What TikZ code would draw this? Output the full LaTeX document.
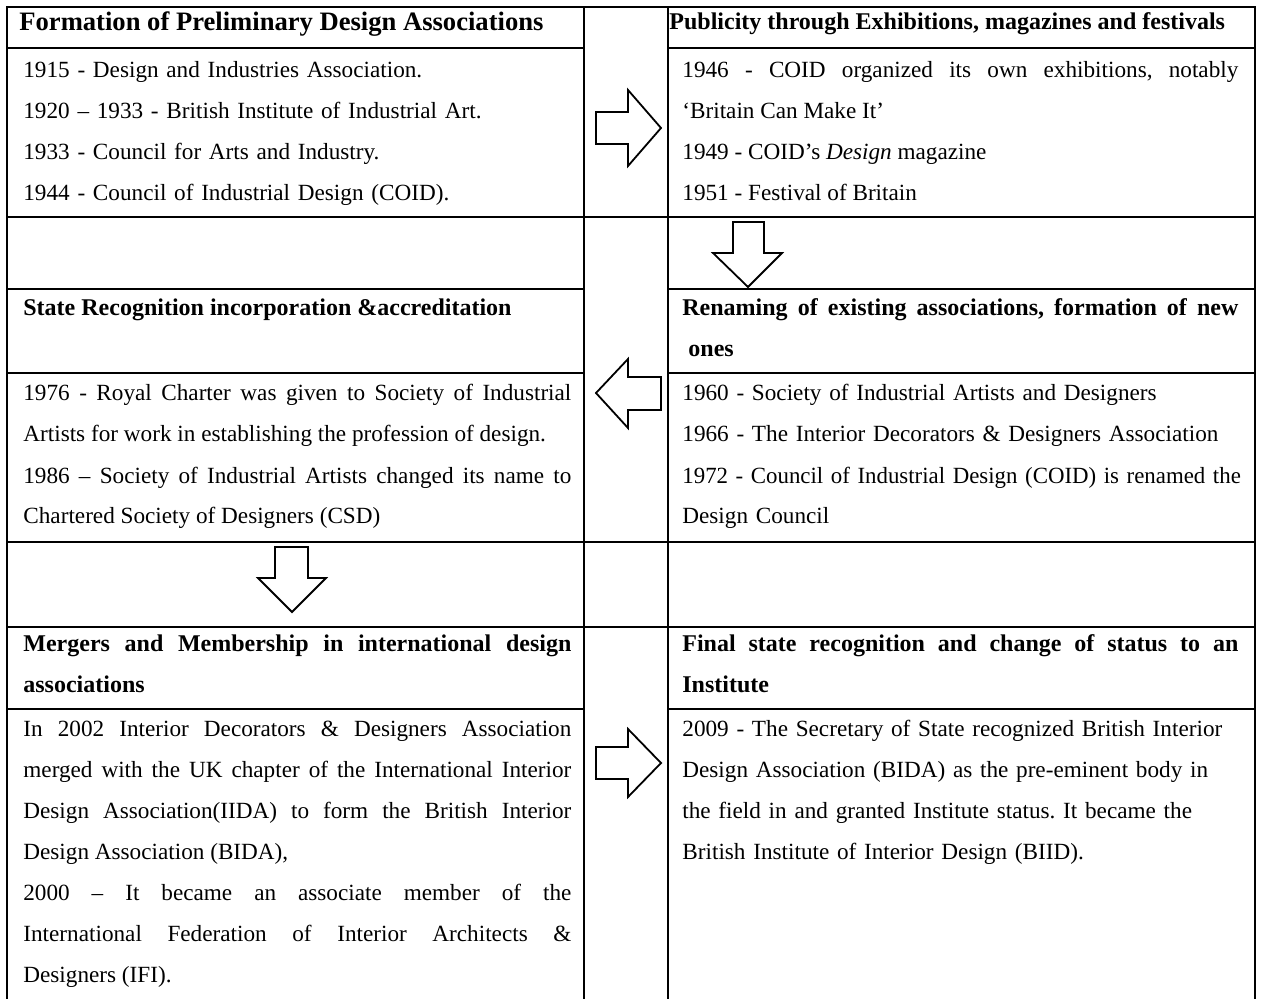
\documentclass[tikz,border=0pt]{standalone}
\usepackage{fontspec}
\usepackage{graphicx}
\setmainfont{Liberation Serif}
\frenchspacing

\tikzset{
  rule/.style={line width=1.1pt, line cap=rect},
  blockarrow/.style={draw, line width=0.9pt, line join=miter, fill=white},
  titlehead/.style={anchor=base west, inner sep=0pt, font=\fontsize{13.3}{20.5}\selectfont\bfseries},
  cellhead/.style={anchor=base west, inner sep=0pt, font=\fontsize{12}{20.5}\selectfont\bfseries},
  celltext/.style={anchor=base west, inner sep=0pt, font=\fontsize{11.6}{20.5}\selectfont},
  leftcell/.style={text width=274pt, align=justify},
  rightcell/.style={text width=278pt, align=justify}
}

\begin{document}
\begin{tikzpicture}[x=0.5pt, y=-0.5pt]
	\path[fill=white] (0,0) rectangle (1262,998);

	% table rules
	\draw[rule] (7,7) to (1255,7);
		\draw[rule] (7,48) to (584,48);
		\draw[rule] (668,48) to (1255,48);
	\draw[rule] (7,217) to (1255,217);
		\draw[rule] (7,289) to (584,289);
		\draw[rule] (668,289) to (1255,289);
		\draw[rule] (7,373) to (584,373);
		\draw[rule] (668,373) to (1255,373);
	\draw[rule] (7,542) to (1255,542);
	\draw[rule] (7,627) to (1255,627);
		\draw[rule] (7,709) to (584,709);
		\draw[rule] (668,709) to (1255,709);

	\draw[rule] (7,7) to (7,998);
	\draw[rule] (584,7) to (584,998);
	\draw[rule] (668,7) to (668,998);
	\draw[rule] (1255,7) to (1255,998);

	% arrows
	\draw[blockarrow] (596,112) -- (628,112) -- (628,90) -- (661,128) -- (628,166) -- (628,144) -- (596,144) -- cycle;
	\draw[blockarrow] (733,222) -- (764,222) -- (764,253) -- (782,253) -- (748,287) -- (713,253) -- (733,253) -- cycle;
	\draw[blockarrow] (661,377) -- (628,377) -- (628,359) -- (596,393) -- (628,428) -- (628,410) -- (661,410) -- cycle;
	\draw[blockarrow] (275,547) -- (308,547) -- (308,578) -- (326,578) -- (292,612) -- (258,578) -- (275,578) -- cycle;
	\draw[blockarrow] (596,747) -- (628,747) -- (628,729) -- (661,763) -- (628,797) -- (628,779) -- (596,779) -- cycle;

	% first row
	\node[titlehead] (formhead) at (19,31) {Formation of Preliminary Design Associations};
	\node[celltext, leftcell, align=left] (formtext) at (23,78) {1915 - Design and Industries Association.\\
		1920 -- 1933 - British Institute of Industrial Art.\\
		1933 - Council for Arts and Industry.\\
		1944 - Council of Industrial Design (COID).};
	\node[cellhead] (pubhead) at (669,30) {Publicity through Exhibitions, magazines and festivals};
	\node[celltext, rightcell] (pubtext) at (682,78) {1946 - COID organized its own exhibitions, notably \linebreak
		`Britain Can Make It'\\
		1949 - COID's \textit{Design} magazine\\
		1951 - Festival of Britain};

	% second row
	\node[cellhead, leftcell] (statehead) at (23,316) {State Recognition incorporation \&accreditation};
	\node[celltext, leftcell] (statetext) at (23,401) {1976 - Royal Charter was given to Society of Industrial \linebreak
		Artists for work in establishing the profession of design.\\
		1986 -- Society of Industrial Artists changed its name to \linebreak
		Chartered Society of Designers (CSD)};
	\node[cellhead, rightcell] (renamehead) at (682,316) {Renaming of existing associations, formation of new \linebreak
		\hspace*{0.25em}ones};
	\node[celltext, rightcell, align=left] (renametext) at (682,401) {1960 - Society of Industrial Artists and Designers\\
		1966 - The Interior Decorators \& Designers Association\\
		\scalebox{0.985}[1]{1972 - Council of Industrial Design (COID) is renamed the}\\
		Design Council};

	% third row
	\node[cellhead, leftcell] (mergehead) at (23,651) {Mergers and Membership in international design \linebreak
		associations};
	\node[celltext, leftcell] (mergetext) at (23,736) {In 2002 Interior Decorators \& Designers Association \linebreak
		merged with the UK chapter of the International Interior \linebreak
		Design Association(IIDA) to form the British Interior \linebreak
		Design Association (BIDA),\\
		2000 -- It became an associate member of the \linebreak
		International Federation of Interior Architects \& \linebreak
		Designers (IFI).};
	\node[cellhead, rightcell] (finalhead) at (682,651) {Final state recognition and change of status to an \linebreak
		Institute};
	\node[celltext, rightcell, align=left] (finaltext) at (682,736) {\mbox{2009 - The Secretary of State recognized British Interior}\\
		Design Association (BIDA) as the pre-eminent body in\\
		the field in and granted Institute status. It became the\\
		British Institute of Interior Design (BIID).};
\end{tikzpicture}
\end{document}
